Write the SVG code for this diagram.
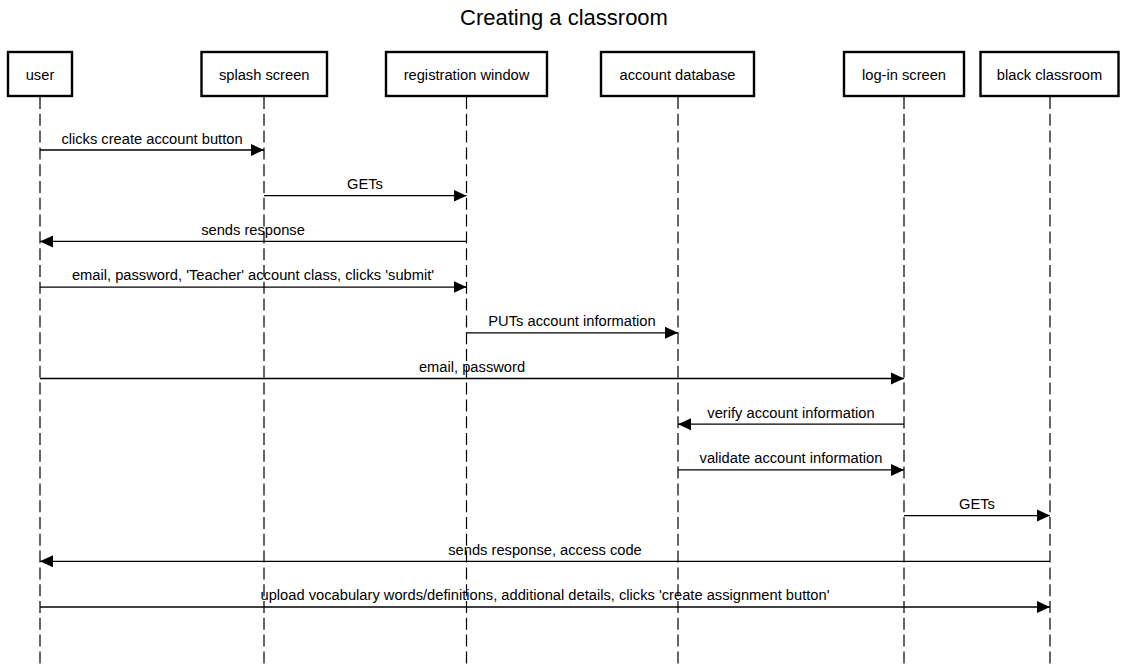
<svg xmlns="http://www.w3.org/2000/svg" width="1128" height="664" viewBox="0 0 1128 664">
<defs>
<style>
.box{fill:#fff;stroke:#000;stroke-width:2.4}
.life{stroke:#000;stroke-width:1.2;stroke-dasharray:12 4.8;fill:none}
.msg{stroke:#000;stroke-width:1.3;fill:none;marker-end:url(#arr)}
text{font-family:"Liberation Sans",Arial,sans-serif;font-size:14.7px;fill:#000;text-anchor:middle}
.title{font-size:22px}
</style>
<marker id="arr" markerUnits="userSpaceOnUse" markerWidth="14" markerHeight="14" viewBox="0 0 14 14" refX="13" refY="7" orient="auto">
<path d="M0,1 L13,7 L0,13 Z" fill="#000"/>
</marker>
</defs>
<rect width="1128" height="664" fill="#fff"/>
<text class="title" x="564" y="25">Creating a classroom</text>
<g id="user"><line class="life" x1="40" y1="97" x2="40" y2="664"/><rect class="box" x="8" y="52" width="64" height="44"/><text x="40" y="80">user</text></g>
<g id="splash"><line class="life" x1="264" y1="97" x2="264" y2="664"/><rect class="box" x="201.5" y="52" width="125.5" height="44"/><text x="264.2" y="80">splash screen</text></g>
<g id="registration"><line class="life" x1="466.5" y1="97" x2="466.5" y2="664"/><rect class="box" x="386" y="52" width="161" height="44"/><text x="466.5" y="80">registration window</text></g>
<g id="accountdb"><line class="life" x1="678" y1="97" x2="678" y2="664"/><rect class="box" x="601" y="52" width="153" height="44"/><text x="677.5" y="80">account database</text></g>
<g id="login"><line class="life" x1="904" y1="97" x2="904" y2="664"/><rect class="box" x="844" y="52" width="120" height="44"/><text x="904" y="80">log-in screen</text></g>
<g id="classroom"><line class="life" x1="1050" y1="97" x2="1050" y2="664"/><rect class="box" x="980.5" y="52" width="138" height="44"/><text x="1049.5" y="80">black classroom</text></g>
<g id="connectors">
<line class="msg" x1="40" y1="150" x2="264" y2="150"/>
<text x="152" y="143.5">clicks create account button</text>
<line class="msg" x1="264" y1="195.7" x2="466.5" y2="195.7"/>
<text x="365" y="189">GETs</text>
<line class="msg" x1="466.5" y1="241.4" x2="40" y2="241.4"/>
<text x="253" y="234.7">sends response</text>
<line class="msg" x1="40" y1="287.1" x2="466.5" y2="287.1"/>
<text x="253" y="280.4">email, password, 'Teacher' account class, clicks 'submit'</text>
<line class="msg" x1="466.5" y1="332.8" x2="678" y2="332.8"/>
<text x="572" y="326.1">PUTs account information</text>
<line class="msg" x1="40" y1="378.5" x2="904" y2="378.5"/>
<text x="472" y="371.8">email, password</text>
<line class="msg" x1="904" y1="424.2" x2="678" y2="424.2"/>
<text x="791" y="417.5">verify account information</text>
<line class="msg" x1="678" y1="469.9" x2="904" y2="469.9"/>
<text x="791" y="463.2">validate account information</text>
<line class="msg" x1="904" y1="515.6" x2="1050" y2="515.6"/>
<text x="977" y="508.9">GETs</text>
<line class="msg" x1="1050" y1="561.3" x2="40" y2="561.3"/>
<text x="545" y="554.6">sends response, access code</text>
<line class="msg" x1="40" y1="607" x2="1050" y2="607"/>
<text x="545" y="600.3">upload vocabulary words/definitions, additional details, clicks 'create assignment button'</text>
</g>
</svg>
